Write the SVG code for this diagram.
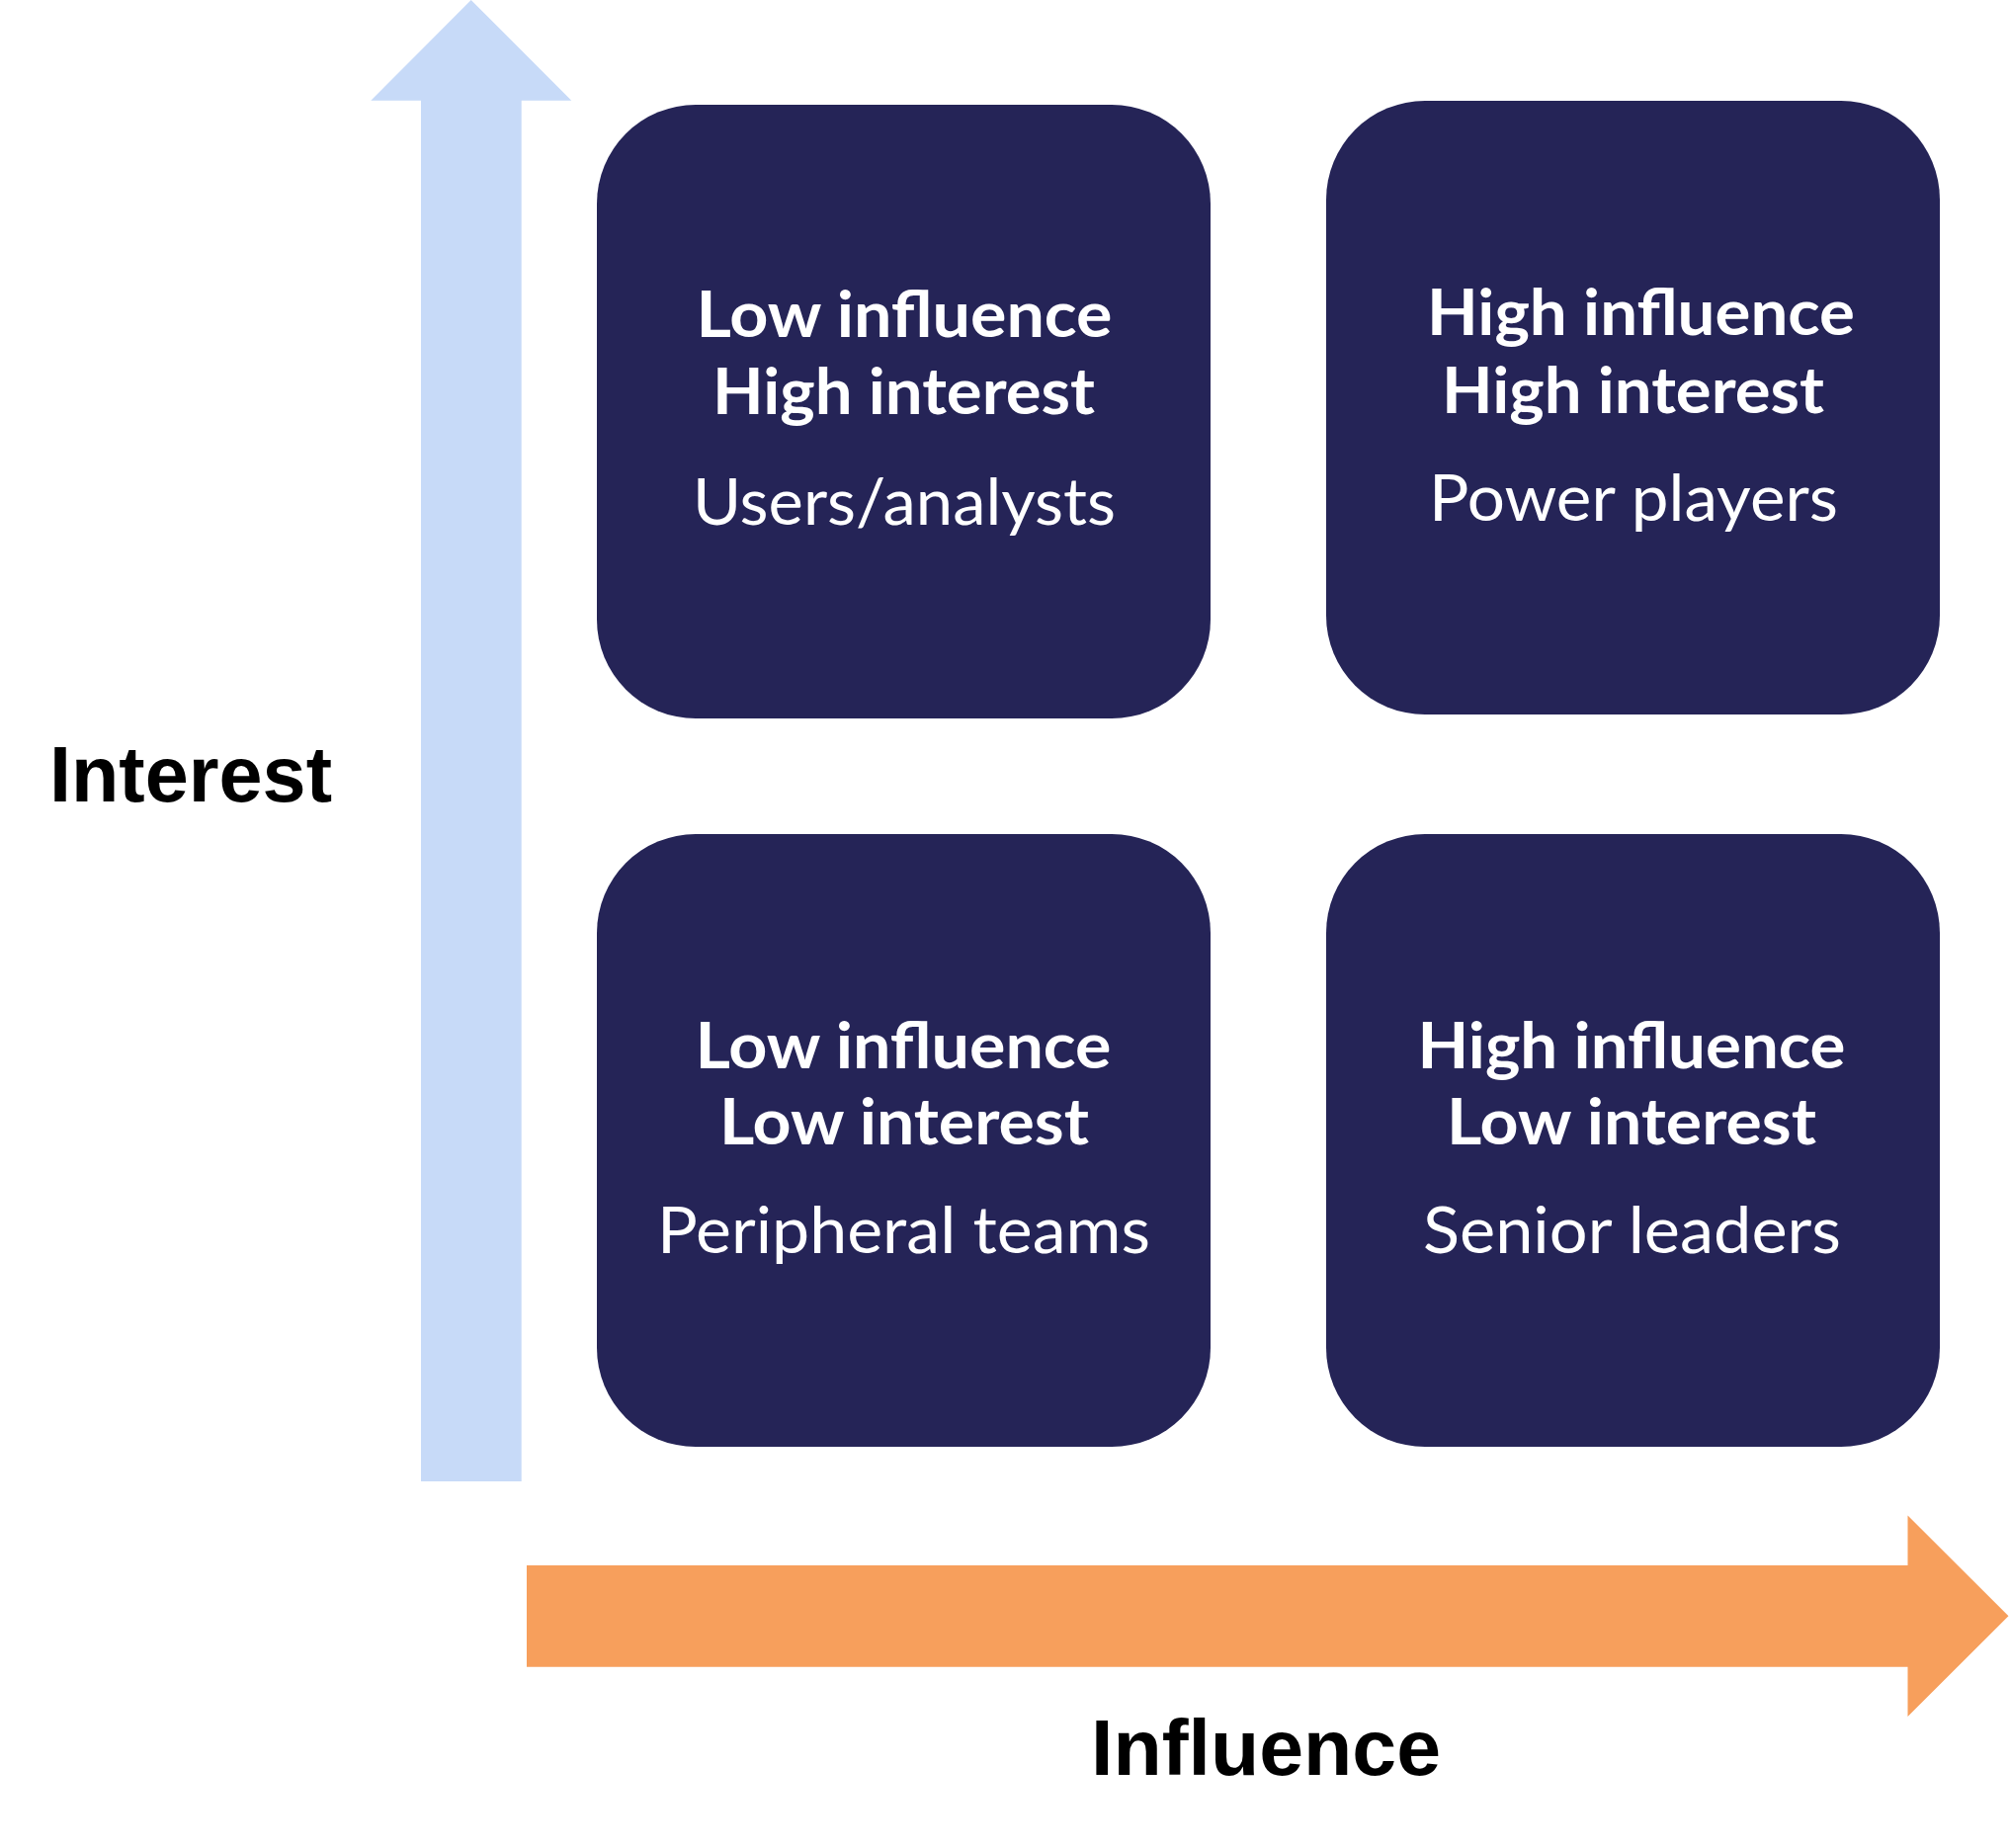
<svg xmlns="http://www.w3.org/2000/svg" width="2033" height="1870" viewBox="0 0 2033 1870">
  <style>
    .box { fill: #252457; }
    .hd { font-family: Lato, "Open Sans", sans-serif; font-weight: 700; font-size: 65px; fill: #ffffff; text-anchor: middle; }
    .sub { font-family: Lato, "Open Sans", sans-serif; font-weight: 400; font-size: 65px; fill: #ffffff; text-anchor: middle; }
    .axis { font-family: "Liberation Sans", Arial, sans-serif; font-weight: 700; font-size: 79px; fill: #000000; }
  </style>
  <rect width="2033" height="1870" fill="#ffffff"/>
  <g id="axes">
    <polygon id="interest-arrow" fill="#C7DAF8" points="476.7,0 578.3,101.7 527.7,101.7 527.7,1499 426,1499 426,101.7 375.3,101.7"/>
    <polygon id="influence-arrow" fill="#F79F5C" points="533,1584 1930.5,1584 1930.5,1533.5 2032.5,1635.3 1930.5,1737 1930.5,1686.7 533,1686.7"/>
    <text id="interest-label" class="axis" x="50" y="811" textLength="286" lengthAdjust="spacingAndGlyphs">Interest</text>
    <text id="influence-label" class="axis" x="1104" y="1796" textLength="354" lengthAdjust="spacingAndGlyphs">Influence</text>
  </g>
  <g id="node-low-influence-high-interest">
    <rect class="box" x="604" y="106" width="621" height="621" rx="100" ry="100"/>
    <text class="hd" x="915" y="341" textLength="421" lengthAdjust="spacingAndGlyphs">Low influence</text>
    <text class="hd" x="914.5" y="419" textLength="387" lengthAdjust="spacingAndGlyphs">High interest</text>
    <text class="sub" x="915" y="531" textLength="428" lengthAdjust="spacingAndGlyphs">Users/analysts</text>
  </g>
  <g id="node-high-influence-high-interest">
    <rect class="box" x="1342" y="102" width="621" height="621" rx="100" ry="100"/>
    <text class="hd" x="1660.5" y="339" textLength="433" lengthAdjust="spacingAndGlyphs">High influence</text>
    <text class="hd" x="1652.5" y="418" textLength="387" lengthAdjust="spacingAndGlyphs">High interest</text>
    <text class="sub" x="1653" y="527" textLength="414" lengthAdjust="spacingAndGlyphs">Power players</text>
  </g>
  <g id="node-low-influence-low-interest">
    <rect class="box" x="604" y="844" width="621" height="620" rx="100" ry="100"/>
    <text class="hd" x="914" y="1081" textLength="421" lengthAdjust="spacingAndGlyphs">Low influence</text>
    <text class="hd" x="915" y="1158" textLength="374" lengthAdjust="spacingAndGlyphs">Low interest</text>
    <text class="sub" x="914.5" y="1268" textLength="499" lengthAdjust="spacingAndGlyphs">Peripheral teams</text>
  </g>
  <g id="node-high-influence-low-interest">
    <rect class="box" x="1342" y="844" width="621" height="620" rx="100" ry="100"/>
    <text class="hd" x="1651" y="1081" textLength="433" lengthAdjust="spacingAndGlyphs">High influence</text>
    <text class="hd" x="1651" y="1158" textLength="374" lengthAdjust="spacingAndGlyphs">Low interest</text>
    <text class="sub" x="1651.5" y="1268" textLength="423" lengthAdjust="spacingAndGlyphs">Senior leaders</text>
  </g>
</svg>
